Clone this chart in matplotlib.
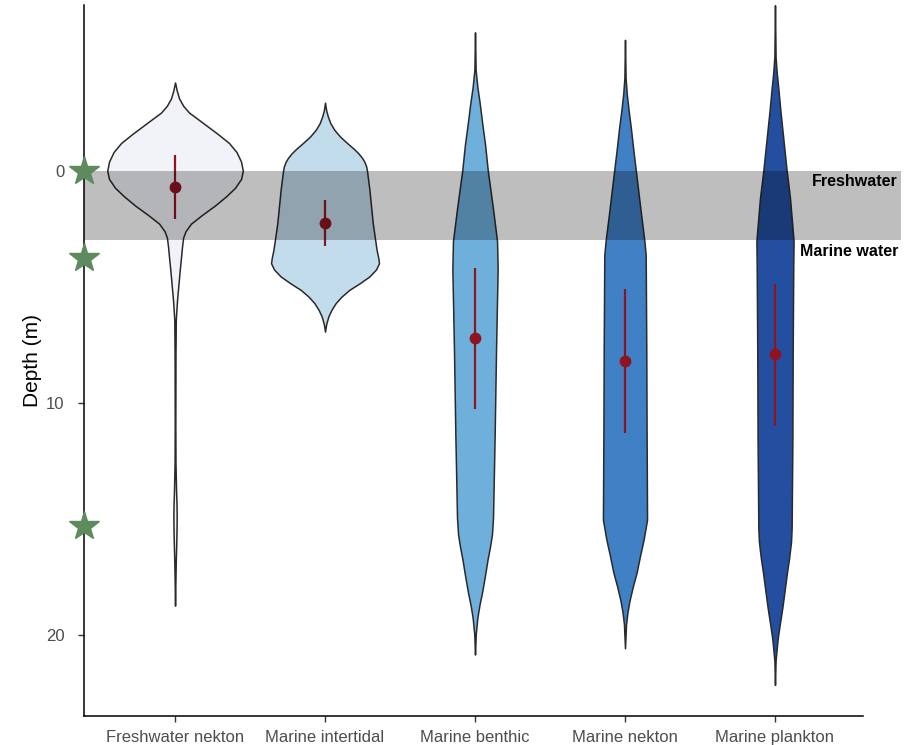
import numpy as np
import matplotlib.pyplot as plt
from matplotlib.patches import Rectangle

plt.rcParams['font.family'] = ['Liberation Sans', 'DejaVu Sans']

groups = ['Freshwater nekton', 'Marine intertidal', 'Marine benthic',
          'Marine nekton', 'Marine plankton']
colors = ['#F2F3F9', '#C3DCEC', '#6FAFDB', '#4080C4', '#244FA0']

# violin outlines: depth (m) and half width (in category units)
fw_depth = [-3.81, -3.45, -3.12, -2.8, -2.51, -2.05, -1.58, -1.2, -0.81, -0.4, 0.0, 0.35, 0.73,
            1.1, 1.5, 1.9, 2.27, 2.6, 2.88, 3.3, 3.65, 4.3, 4.88, 5.6, 6.42, 7.96, 11.0,
            12.58, 13.2, 13.8, 14.4, 14.9, 15.5, 16.1, 16.8, 17.5, 18.1, 18.74]
fw_half = [0.0, 0.012, 0.027, 0.055, 0.094, 0.19, 0.287, 0.36, 0.41, 0.44, 0.452, 0.44, 0.40,
           0.34, 0.265, 0.18, 0.107, 0.07, 0.054, 0.046, 0.041, 0.031, 0.023, 0.013, 0.005,
           0.003, 0.002, 0.003, 0.005, 0.007, 0.010, 0.011, 0.010, 0.008, 0.005, 0.003,
           0.0015, 0.0]

it_depth = [-2.94, -2.6, -2.34, -2.05, -1.77, -1.48, -1.19, -0.95, -0.76, -0.55, -0.40, -0.2,
            0.0, 0.82, 2.25, 3.41, 3.75, 3.98, 4.25, 4.55, 4.85, 5.13, 5.42, 5.70, 6.0, 6.28,
            6.6, 6.93]
it_half = [0.0, 0.008, 0.019, 0.036, 0.062, 0.10, 0.149, 0.192, 0.222, 0.248, 0.262, 0.274,
           0.28, 0.296, 0.318, 0.344, 0.355, 0.36, 0.34, 0.296, 0.23, 0.162, 0.11, 0.071,
           0.042, 0.022, 0.008, 0.0]

bn_depth = [-5.97, -4.36, -3.6, -2.93, -2.0, -1.14, -0.02, 1.54, 3.03, 4.22, 7.8, 11.4,
            14.96, 15.67, 16.2, 16.74, 17.5, 18.17, 18.7, 19.25, 19.96, 20.85]
bn_half = [0.0, 0.004, 0.016, 0.031, 0.049, 0.067, 0.085, 0.118, 0.147, 0.151, 0.14, 0.131,
           0.12, 0.113, 0.10, 0.084, 0.065, 0.047, 0.03, 0.016, 0.005, 0.0]

nk_depth = [-5.65, -4.0, -3.3, -2.62, -1.8, -0.88, -0.02, 1.71, 3.01, 3.62, 7.77, 11.23,
            15.04, 15.9, 16.6, 17.3, 17.9, 18.5, 19.0, 19.54, 20.58]
nk_half = [0.0, 0.004, 0.012, 0.024, 0.04, 0.056, 0.072, 0.104, 0.129, 0.138, 0.142, 0.144,
           0.147, 0.124, 0.10, 0.078, 0.053, 0.031, 0.017, 0.007, 0.0]

pk_depth = [-7.14, -4.9, -4.2, -3.57, -2.6, -1.67, 0.0, 1.17, 3.02, 4.02, 7.82, 11.62, 15.41,
            15.99, 16.7, 17.31, 18.1, 18.83, 19.5, 20.16, 21.11, 22.16]
pk_half = [0.0, 0.004, 0.012, 0.022, 0.036, 0.051, 0.078, 0.10, 0.124, 0.122, 0.118, 0.116,
           0.111, 0.107, 0.094, 0.08, 0.064, 0.049, 0.033, 0.018, 0.004, 0.0]

depths = [fw_depth, it_depth, bn_depth, nk_depth, pk_depth]
halves = [fw_half, it_half, bn_half, nk_half, pk_half]

# mean and spread per group
means = [0.69, 2.25, 7.2, 8.2, 7.91]
lower = [-0.69, 1.25, 4.19, 5.09, 4.88]
upper = [2.07, 3.26, 10.25, 11.3, 11.0]

star_depths = [0, 3.77, 15.33]
band_top, band_bottom = 0, 3

fig = plt.figure(figsize=(9.12, 7.45), dpi=100)
ax = fig.add_axes([0.0921, 0.0389, 0.8542, 0.9544])

x = np.arange(len(groups))
for i in x:
    d = np.array(depths[i])
    h = np.array(halves[i])
    ax.fill_betweenx(d, i - h, i + h, facecolor=colors[i], edgecolor='#2a2a2a',
                     linewidth=1.1, zorder=2)
    ax.vlines(i, lower[i], upper[i], color='#8E1520', linewidth=1.6, zorder=3)
    ax.plot(i, means[i], 'o', color='#8E1520', ms=7.5, zorder=4)

xmin, xmax = -0.607, 4.587
band = Rectangle((xmin, band_top), 4.84 - xmin, band_bottom - band_top,
                 facecolor='black', alpha=0.255, edgecolor='none', zorder=5,
                 clip_on=False)
ax.add_patch(band)
ax.text(4.82, band_top + 0.47, 'Freshwater', ha='right', va='center',
        fontsize=11.5, fontweight='bold', zorder=7, clip_on=False)
ax.text(4.82, band_bottom + 0.47, 'Marine water', ha='right', va='center',
        fontsize=11.5, fontweight='bold', zorder=7, clip_on=False)

ax.plot([xmin] * len(star_depths), star_depths, marker='*', ls='none', ms=22,
        color='#5E8B5E', clip_on=False, zorder=8)

ax.set_xlim(xmin, xmax)
ax.set_ylim(23.5, -7.15)
ax.set_xticks(x)
ax.set_xticklabels(groups)
ax.set_yticks([0, 10, 20])
ax.tick_params(axis='both', labelsize=12, labelcolor='#4D4D4D', color='#333333',
               length=4, width=1)
ax.tick_params(axis='y', pad=10)
ax.tick_params(axis='x', pad=6)
ax.set_ylabel('Depth (m)', fontsize=15, labelpad=3)
for s in ['top', 'right']:
    ax.spines[s].set_visible(False)
for s in ['left', 'bottom']:
    ax.spines[s].set_linewidth(1.1)
    ax.spines[s].set_color('black')

fig.savefig('out.png', dpi=100)
